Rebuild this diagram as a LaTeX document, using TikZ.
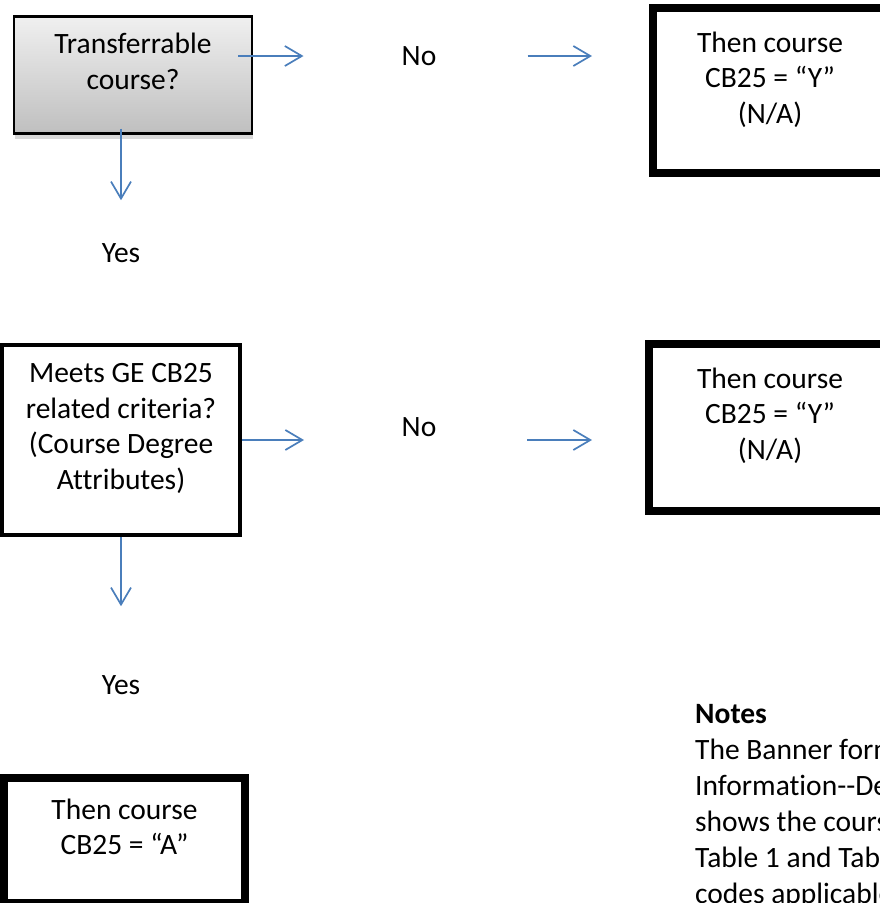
\documentclass[tikz,border=0pt]{standalone}
\usepackage{fontspec}
\setmainfont{Carlito}[Ligatures={NoCommon}]
\usetikzlibrary{arrows.meta,positioning,shadows}

\definecolor{flowblue}{HTML}{4A7EBB}

\begin{document}
\begin{tikzpicture}[x=1pt,y=-1pt,
    every node/.style={font=\fontsize{29.5}{35.5}\selectfont},
    question/.style={draw,rectangle,line width=2.3pt,inner sep=0pt,
      top color=gray!12,bottom color=gray!50,
      drop shadow={shadow xshift=1pt,shadow yshift=-5pt,opacity=0.3}},
    criteria/.style={draw,rectangle,line width=4pt,inner sep=0pt,fill=white},
    result/.style={draw,rectangle,line width=8pt,inner sep=0pt,fill=white},
    boxtext/.style={align=center,inner sep=0pt,anchor=north},
    answer/.style={inner sep=0pt},
    flow/.style={draw=flowblue,line width=1.7pt,
      -{Straight Barb[length=17pt,width=20pt]}}]
  \useasboundingbox (0,0) rectangle (880,903);
  \clip (0,0) rectangle (880,903);

  % the two questions on the left
  \node[question,minimum width=238pt,minimum height=117pt] (trans) at (133,75) {};
  \node[criteria,minimum width=238pt,minimum height=190pt] (meets) at (121,440) {};

  % the three outcomes
  \node[result,minimum width=234pt,minimum height=165pt] (res-a) at (770,90.5) {};
  \node[result,minimum width=242pt,minimum height=167pt] (res-b) at (770,427.5) {};
  \node[result,minimum width=241pt,minimum height=125pt] (res-c) at (124.5,840.5) {};

  % texts, set near the top of each box
  \node[boxtext,below=17.5pt of trans.north] (trans-text) {Transferrable\\course?};
  \node[boxtext,below=20.5pt of meets.north] (meets-text)
    {Meets GE CB25\\related criteria?\\(Course Degree\\Attributes)};
  \node[boxtext,below=27.5pt of res-a.north] (res-a-text) {Then course\\CB25 = “Y”\\(N/A)};
  \node[boxtext,below=27.5pt of res-b.north] (res-b-text) {Then course\\CB25 = “Y”\\(N/A)};
  \node[boxtext,below=24.5pt of res-c.north] (res-c-text) {Then course\\CB25 = “A”};

  % answers between the boxes
  \node[answer] (no-a) at (419,56) {No};
  \node[answer] (no-b) at (419,427) {No};
  \node[answer] (yes-a) at (121,253) {Yes};
  \node[answer] (yes-b) at (121,685) {Yes};

  % arrows
  \draw[flow,shorten <=-15pt,shorten >=98pt] (trans.east |- no-a) -- (no-a);
  \draw[flow,shorten <=91pt,shorten >=57pt] (no-a) -- (res-a.west |- no-a);
  \draw[flow,shorten <=-6pt,shorten >=43pt] (trans.south -| yes-a) -- (yes-a);
  \draw[flow,shorten >=115pt] (meets.east) -- (meets.east -| no-b);
  \draw[flow,shorten <=108pt,shorten >=53pt] (no-b |- meets.east) -- (res-b.west |- meets.east);
  \draw[flow,shorten >=69pt] (meets.south -| yes-b) -- (yes-b);

  % notes, running off the right edge
  \node[align=left,inner sep=0pt,anchor=north west,
    font=\fontsize{29.5}{35.9}\selectfont] (notes) at (695,704.5)
    {\textbf{Notes}\\The Banner form\\Information-{}-De\\shows the cours\\Table 1 and Tab\\codes applicable};
\end{tikzpicture}
\end{document}
